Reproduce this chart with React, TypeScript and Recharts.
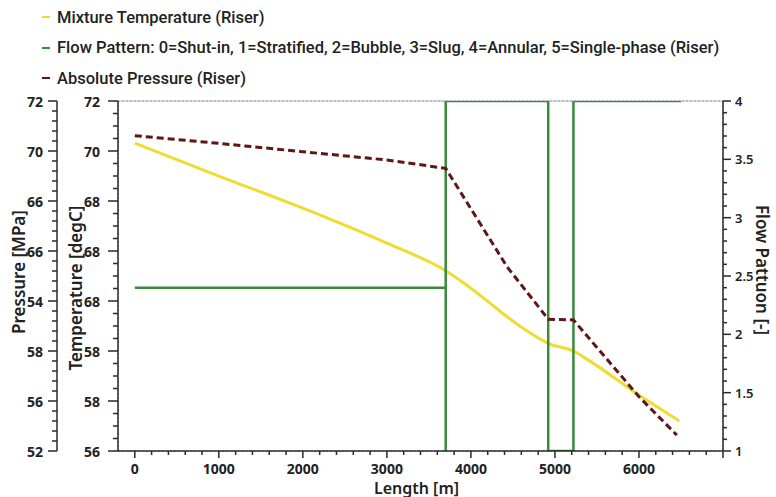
import React from 'react';
import { ComposedChart, Line, XAxis, YAxis, CartesianGrid, Legend, ReferenceLine } from 'recharts';

// ---- data ----
const tempLength = [0, 1000, 2000, 3000, 3700, 4000, 4230, 4430, 4710, 4920, 5220, 5380, 6000, 6480];
const tempValues = [70.07, 68.57, 67.1, 65.5, 64.24, 63.44, 62.75, 62.14, 61.38, 60.92, 60.57, 60.2, 58.56, 57.37];

const presLength = [0, 1000, 2000, 3000, 3700, 4430, 4920, 5220, 6000, 6450];
const presValues = [70.02, 69.58, 69.1, 68.63, 68.15, 62.53, 59.53, 59.49, 55.1, 52.91];

const flowLength = [0, 3700, 3700, 3700, 4920, 4920, 5220, 5220, 6500];
const flowValues = [2.4, 2.4, 1, 4, 4, 1, 1, 4, 4];

// tick labels (bottom to top)
const pressureTickLabels = ['52', '56', '58', '54', '66', '66', '70', '72'];
const temperatureTickLabels = ['56', '58', '58', '68', '68', '68', '70', '72'];
const flowTickLabels = ['1', '1.5', '2', '2.5', '3', '3.5', '4'];
const lengthTickLabels = ['0', '1000', '2000', '3000', '4000', '5000', '6000'];

const legendItems = [
  { name: 'Mixture Temperature (Riser)', color: '#efdc32' },
  { name: 'Flow Pattern: 0=Shut-in, 1=Stratified, 2=Bubble, 3=Slug, 4=Annular, 5=Single-phase (Riser)', color: '#3a8a3a' },
  { name: 'Absolute Pressure (Riser)', color: '#5e1616' },
];

// ---- derived tables ----
const tempData = tempLength.map((x, i) => ({ x, v: tempValues[i] }));
const presData = presLength.map((x, i) => ({ x, v: presValues[i] }));
const flowData = flowLength.map((x, i) => ({ x, v: flowValues[i] }));

const P_MIN = 52, P_MAX = 72, T_MIN = 56, T_MAX = 72, F_MIN = 1, F_MAX = 4, X_MIN = -200, X_MAX = 7000;
const pMajorStep = (P_MAX - P_MIN) / (pressureTickLabels.length - 1);
const tMajorStep = (T_MAX - T_MIN) / (temperatureTickLabels.length - 1);
const P_SUB = 5, T_SUB = 4, F_SUB = 5, X_SUB = 5;
const pTicks = Array.from({ length: (pressureTickLabels.length - 1) * P_SUB + 1 }, (_, i) => P_MIN + (i * pMajorStep) / P_SUB);
const tTicks = Array.from({ length: (temperatureTickLabels.length - 1) * T_SUB + 1 }, (_, i) => T_MIN + (i * tMajorStep) / T_SUB);
const tMajorTicks = temperatureTickLabels.map((_, i) => T_MIN + i * tMajorStep);
const fTicks = Array.from({ length: 31 }, (_, i) => F_MIN + i * 0.1);
const xTicks = Array.from({ length: 36 }, (_, i) => i * 200);
const xMajorTicks = lengthTickLabels.map((_, i) => i * 1000);

const AXIS = '#2a2a2a';
const FONT = '"Noto Sans", sans-serif';
const LEGEND_FONT = 'Roboto, "Noto Sans", sans-serif';
const TXT = '#222';
const TW = 1.5; // tick thickness

const makeLeftTick = (min: number, step: number, sub: number, labels: string[], majorLen: number, gap: number) =>
  (props: any) => {
    const { x, y, payload } = props;
    const idx = Math.round((payload.value - min) / step);
    const major = idx % sub === 0;
    const label = major ? labels[idx / sub] : null;
    const len = major ? majorLen : 5;
    return (
      <g>
        <rect x={x - len} y={y - TW / 2} width={len} height={TW} fill={AXIS} />
        {label != null && (
          <text x={x - majorLen - gap} y={y} textAnchor="end" dominantBaseline="central" fontFamily={FONT} fontWeight={700} fontSize={14} fill={TXT}>
            {label}
          </text>
        )}
      </g>
    );
  };

const PressureTick = makeLeftTick(P_MIN, pMajorStep / P_SUB, P_SUB, pressureTickLabels, 9, 5);
const TempTick = makeLeftTick(T_MIN, tMajorStep / T_SUB, T_SUB, temperatureTickLabels, 10, 8);

const FlowTick = (props: any) => {
  const { x, y, payload } = props;
  const idx = Math.round((payload.value - F_MIN) / 0.1);
  const major = idx % F_SUB === 0;
  const label = major ? flowTickLabels[idx / F_SUB] : null;
  const len = major ? 8 : 4;
  return (
    <g>
      <rect x={x} y={y - TW / 2} width={len} height={TW} fill={AXIS} />
      {label != null && (
        <text x={x + 12} y={y} textAnchor="start" dominantBaseline="central" fontFamily={FONT} fontWeight={600} fontSize={13} fill={TXT}>
          {label}
        </text>
      )}
    </g>
  );
};

const LengthTick = (props: any) => {
  const { x, y, payload } = props;
  const idx = Math.round(payload.value / 200);
  const major = idx % X_SUB === 0;
  const label = major ? lengthTickLabels[idx / X_SUB] : undefined;
  const len = major ? 7 : 4;
  return (
    <g>
      <rect x={x - TW / 2} y={y} width={TW} height={len} fill={AXIS} />
      {label != null && (
        <text x={x} y={y + 17} textAnchor="middle" dominantBaseline="central" fontFamily={FONT} fontWeight={700} fontSize={14} fill={TXT}>
          {label}
        </text>
      )}
    </g>
  );
};

const makeTitle = (text: string, dx: number, dy: number, angle: number, fb: { x: number; y: number; width: number; height: number }) =>
  (props: any) => {
    const vb = props.viewBox && props.viewBox.height ? props.viewBox : fb;
    const cx = vb.x + dx;
    const cy = vb.y + vb.height / 2 + dy;
    return (
      <text x={cx} y={cy} transform={`rotate(${angle}, ${cx}, ${cy})`} textAnchor="middle" dominantBaseline="central" fontFamily={FONT} fontWeight={600} fontSize={17} fill={TXT}>
        {text}
      </text>
    );
  };

const LengthTitle = (props: any) => {
  const vb = props.viewBox && props.viewBox.width ? props.viewBox : { x: 118, y: 451, width: 605, height: 46 };
  return (
    <text x={vb.x + vb.width / 2 - 4} y={vb.y + 36.5} textAnchor="middle" dominantBaseline="central" fontFamily={FONT} fontWeight={600} fontSize={16} fill={TXT}>
      Length [m]
    </text>
  );
};

const LegendContent = () => (
  <div style={{ position: 'relative', width: 776, height: 101, fontFamily: LEGEND_FONT }}>
    {legendItems.map((it, i) => (
      <div key={it.name} style={{ position: 'absolute', left: 42, top: 7 + i * 30.5, height: 20, display: 'flex', alignItems: 'center', whiteSpace: 'nowrap' }}>
        <span style={{ display: 'inline-block', width: 8, height: 2, background: it.color, marginRight: 7 }} />
        <span style={{ fontSize: 16.5, fontWeight: 500, color: TXT }}>{it.name}</span>
      </div>
    ))}
  </div>
);

const axisCommon = {
  tickSize: 0,
  tickMargin: 0,
  tickLine: false,
  stroke: AXIS,
  strokeWidth: 1.5,
  allowDataOverflow: true,
  interval: 0 as const,
};

export default function App() {
  return (
    <div style={{ position: 'absolute', left: 0, top: 0, width: 776, height: 497, background: '#fff' }}>
      <ComposedChart width={776} height={497} margin={{ top: 0, right: 0, bottom: 0, left: 0 }}>
        <Legend verticalAlign="top" align="left" layout="horizontal" content={<LegendContent />} wrapperStyle={{ left: 0, top: 0, margin: 0, padding: 0 }} />
        <XAxis xAxisId="x" dataKey="x" type="number" domain={[X_MIN, X_MAX]} ticks={xTicks} height={46}
          {...axisCommon} tick={LengthTick} label={{ content: LengthTitle }} />
        <XAxis xAxisId="xg" dataKey="x" type="number" domain={[X_MIN, X_MAX]} ticks={xMajorTicks} hide />
        <YAxis yAxisId="left1" orientation="left" type="number" domain={[T_MIN, T_MAX]} ticks={tTicks} width={61}
          {...axisCommon} tick={TempTick}
          label={{ content: makeTitle('Temperature [degC]', 18, 12, -90, { x: 57, y: 101, width: 61, height: 350 }) }} />
        <YAxis yAxisId="left2" orientation="left" type="number" domain={[P_MIN, P_MAX]} ticks={pTicks} width={57}
          {...axisCommon} tick={PressureTick}
          label={{ content: makeTitle('Pressure [MPa]', 18, -4, -90, { x: 0, y: 101, width: 57, height: 350 }) }} />
        <YAxis yAxisId="zgrid" orientation="left" type="number" domain={[T_MIN, T_MAX]} ticks={tMajorTicks} hide />
        <YAxis yAxisId="right" orientation="right" type="number" domain={[F_MIN, F_MAX]} ticks={fTicks} width={53}
          {...axisCommon} tick={FlowTick}
          label={{ content: makeTitle('Flow Pattuon [-]', 39, -6, 90, { x: 723, y: 101, width: 53, height: 350 }) }} />
        <CartesianGrid xAxisId="xg" yAxisId="zgrid" stroke="#9a9a9a" strokeDasharray="2 2" strokeWidth={1} />
        <ReferenceLine xAxisId="x" yAxisId="left1" y={T_MAX} stroke="#b0b0b0" strokeWidth={1.2} />
        <Line xAxisId="x" yAxisId="left1" data={tempData} dataKey="v" type="monotone" stroke="#efdc32" strokeWidth={3} dot={false} isAnimationActive={false} />
        <Line xAxisId="x" yAxisId="right" data={flowData} dataKey="v" type="linear" stroke="#3a8a3a" strokeWidth={2.5} dot={false} isAnimationActive={false} />
        <Line xAxisId="x" yAxisId="left2" data={presData} dataKey="v" type="linear" stroke="#5e1616" strokeWidth={3} strokeDasharray="7 4" dot={false} isAnimationActive={false} />
      </ComposedChart>
    </div>
  );
}
